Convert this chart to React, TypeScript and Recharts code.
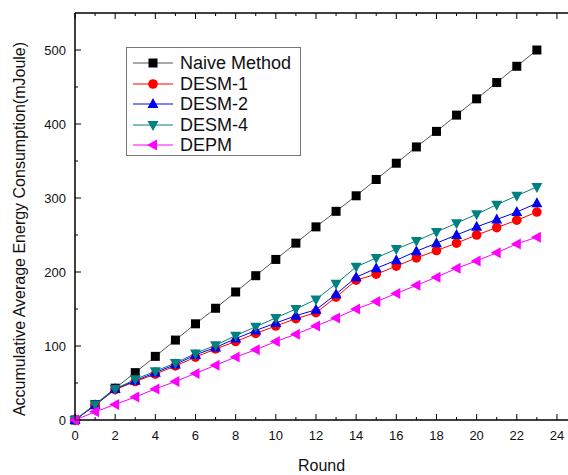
import React from 'react';
import { LineChart, Line, XAxis, YAxis } from 'recharts';

const rounds = [0,1,2,3,4,5,6,7,8,9,10,11,12,13,14,15,16,17,18,19,20,21,22,23];
const naive = [0,21,43,64,86,108,130,151,173,195,217,239,261,282,303,325,347,369,390,412,434,456,478,500];
const desm1 = [0,20,41,52,62,73,85,96,106,117,127,137,145,166,189,197,208,219,229,239,250,260,270,281];
const desm2 = [0,20,42,53,64,75,88,98,110,121,131,141,149,170,193,205,216,228,239,250,261,271,281,293];
const desm4 = [0,21,42,55,66,77,90,101,114,126,138,150,163,184,207,219,231,242,254,266,278,291,303,315];
const depm = [0,11,21,31,42,52,63,74,85,95,106,116,127,138,150,160,171,182,193,205,215,226,238,247];

const xTicks = [0,1,2,3,4,5,6,7,8,9,10,11,12,13,14,15,16,17,18,19,20,21,22,23,24];
const yTicks = [0,50,100,150,200,250,300,350,400,450,500,550];

const data = rounds.map((r, i) => ({
  round: r,
  naive: naive[i],
  desm1: desm1[i],
  desm2: desm2[i],
  desm4: desm4[i],
  depm: depm[i],
}));

const FONT = '"Liberation Sans", Arial, sans-serif';

const series = [
  { key: 'naive', name: 'Naive Method', color: '#000000', line: '#555555', shape: 'square' },
  { key: 'desm1', name: 'DESM-1', color: '#ff0000', line: '#ff0000', shape: 'circle' },
  { key: 'desm2', name: 'DESM-2', color: '#0000ee', line: '#0000ee', shape: 'up' },
  { key: 'desm4', name: 'DESM-4', color: '#008080', line: '#008080', shape: 'down' },
  { key: 'depm', name: 'DEPM', color: '#ff00ff', line: '#ff00ff', shape: 'left' },
];

function Marker({ cx, cy, shape, color }: any) {
  if (cx == null || cy == null) return null;
  const s = 5;
  if (shape === 'square') return <rect x={cx - 4.5} y={cy - 4.5} width={9} height={9} fill={color} />;
  if (shape === 'circle') return <circle cx={cx} cy={cy} r={4.8} fill={color} />;
  if (shape === 'up') return <polygon points={`${cx},${cy - s - 1} ${cx - s - 0.5},${cy + s - 1} ${cx + s + 0.5},${cy + s - 1}`} fill={color} />;
  if (shape === 'down') return <polygon points={`${cx},${cy + s + 1} ${cx - s - 0.5},${cy - s + 1} ${cx + s + 0.5},${cy - s + 1}`} fill={color} />;
  return <polygon points={`${cx - s - 1},${cy} ${cx + s - 1},${cy - s - 0.5} ${cx + s - 1},${cy + s + 0.5}`} fill={color} />;
}

const XTick = (props: any) => {
  const { x, payload } = props;
  const v = payload.value;
  const major = v % 2 === 0;
  const axisY = 420;
  return (
    <g>
      <line x1={x} x2={x} y1={axisY} y2={axisY - (major ? 6 : 3)} stroke="#000" strokeWidth={1} />
      {major && (
        <text x={x} y={axisY + 20} textAnchor="middle" fontSize={13} fontFamily={FONT} fill="#111">{v}</text>
      )}
    </g>
  );
};

const TopTick = (props: any) => {
  const { x, payload } = props;
  const v = payload.value;
  const major = v % 2 === 0;
  const axisY = 13;
  return <line x1={x} x2={x} y1={axisY} y2={axisY + (major ? 6 : 3)} stroke="#000" strokeWidth={1} />;
};

const YTick = (props: any) => {
  const { y, payload } = props;
  const v = payload.value;
  const major = v % 100 === 0;
  const axisX = 75;
  if (v > 500) return null;
  return (
    <g>
      <line x1={axisX} x2={axisX + (major ? 6 : 3)} y1={y} y2={y} stroke="#000" strokeWidth={1} />
      {major && (
        <text x={axisX - 9} y={y + 4.5} textAnchor="end" fontSize={13} fontFamily={FONT} fill="#111">{v}</text>
      )}
    </g>
  );
};

const YLabel = () => (
  <text
    x={19}
    y={229}
    transform="rotate(-90, 19, 229)"
    textAnchor="middle"
    dominantBaseline="central"
    fontSize={16}
    fontFamily={FONT}
    fill="#111"
  >
    Accumulative Average Energy Consumption(mJoule)
  </text>
);

const LegendBox = () => (
  <div style={{ position: 'absolute', left: 126, top: 47, border: '1px solid #777', background: '#fff', width: 175, height: 109, boxSizing: 'border-box', padding: '5px 0 0 6px' }}>
    {series.map((s) => (
      <div key={s.key} style={{ display: 'flex', alignItems: 'center', height: 20.5 }}>
        <svg width={42} height={14} style={{ flex: 'none' }}>
          <line x1={0} x2={40} y1={7} y2={7} stroke={s.line} strokeWidth={1} />
          <Marker cx={20} cy={7} shape={s.shape} color={s.color} />
        </svg>
        <span style={{ fontFamily: FONT, fontSize: 18, color: '#111', marginLeft: 5, lineHeight: '18px', whiteSpace: 'nowrap' }}>{s.name}</span>
      </div>
    ))}
  </div>
);

export default function App() {
  return (
    <div style={{ position: 'absolute', left: 0, top: 0, width: 568, height: 475, background: '#fff' }}>
      <LineChart width={568} height={475} data={data} margin={{ top: 5, right: 0, left: 0, bottom: 0 }}>
        <XAxis
          xAxisId="bottom"
          dataKey="round"
          type="number"
          domain={[0, 24.55]}
          ticks={xTicks}
          interval={0}
          tickLine={false}
          tick={<XTick />}
          height={55}
          axisLine={{ stroke: '#000', strokeWidth: 1.5 }}
          label={{ value: 'Round', position: 'insideBottom', offset: 4, style: { fontFamily: FONT, fontSize: 16, fill: '#111' } }}
        />
        <XAxis
          xAxisId="top"
          orientation="top"
          dataKey="round"
          type="number"
          domain={[0, 24.55]}
          ticks={xTicks}
          interval={0}
          tickLine={false}
          tick={<TopTick />}
          height={8}
          axisLine={{ stroke: '#000', strokeWidth: 1.5 }}
        />
        <YAxis
          type="number"
          domain={[0, 550]}
          ticks={yTicks}
          interval={0}
          width={75}
          tickLine={false}
          tick={<YTick />}
          axisLine={{ stroke: '#000', strokeWidth: 1.5 }}
          label={<YLabel />}
        />
        {series.map((s) => (
          <Line
            key={s.key}
            xAxisId="bottom"
            dataKey={s.key}
            name={s.name}
            stroke={s.line}
            strokeWidth={1}
            isAnimationActive={false}
            dot={(p: any) => <Marker key={`${s.key}-${p.index}`} cx={p.cx} cy={p.cy} shape={s.shape} color={s.color} />}
            activeDot={false}
          />
        ))}
      </LineChart>
      <LegendBox />
    </div>
  );
}
